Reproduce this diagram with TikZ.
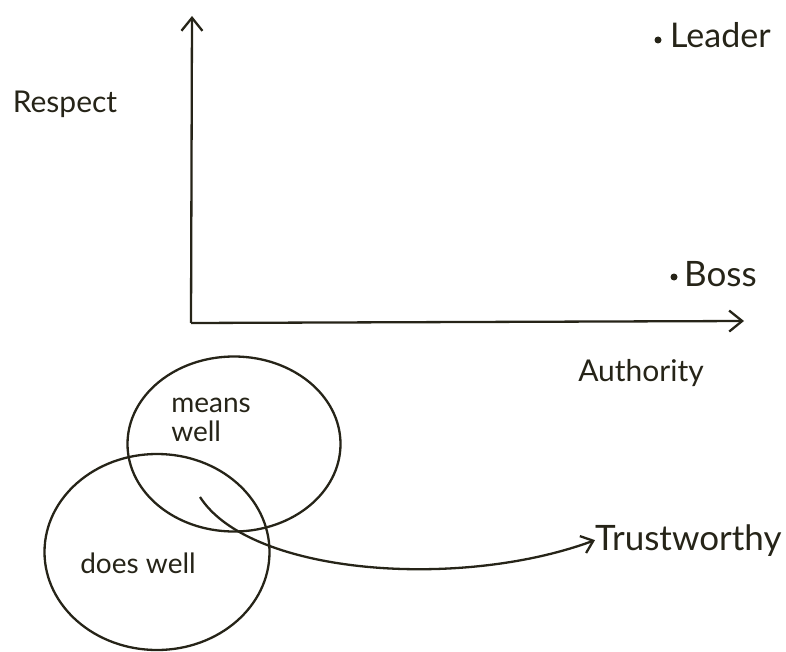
\documentclass[tikz,border=0pt]{standalone}
\usepackage{fontspec}
\setmainfont{Lato}
\usetikzlibrary{arrows.meta,positioning,shapes.geometric}
\definecolor{inkdark}{RGB}{38,36,24}
\tikzset{
    ink/.style={draw=inkdark, line width=2.3pt},
    barb/.style={-{Straight Barb[length=13pt,width=21pt]}},
    hand/.style={text=inkdark, inner sep=0pt, font=\fontsize{30}{32}\selectfont},
    blob/.style={ellipse, draw=inkdark, line width=2.3pt, inner sep=0pt}
}

\begin{document}
\begin{tikzpicture}[x=1pt, y=-1pt]
    \useasboundingbox (0,0) rectangle (786,652);

    % --- Respect / Authority axes ---
    \coordinate (origin) at (191,323);
    \coordinate (ytip) at (192,16);
    \coordinate (xtip) at (744,321);
    \draw[ink, barb] (origin) -- (ytip);
    \draw[ink, barb] (origin) -- (xtip);

    \node[hand] (respect) at (65,104) {Respect};
    \node[hand, anchor=base] (authority) at (641,381) {Authority};

    % Leader and Boss points
    \coordinate (leaderpt) at (658,40);
    \coordinate (bosspt) at (674,277);
    \fill[inkdark] (leaderpt) circle (3.5pt);
    \fill[inkdark] (bosspt) circle (3.5pt);
    \node[hand, anchor=base west, font=\fontsize{34}{36}\selectfont] (leader) at (670,48) {Leader};
    \node[hand, anchor=base west, font=\fontsize{35}{36}\selectfont] (boss) at (684,286) {Boss};

    % --- Venn of the two wells ---
    \node[blob, minimum width=213pt, minimum height=175pt] (meanswell) at (234,444) {};
    \node[blob, minimum width=225pt, minimum height=196pt] (doeswell) at (157,552) {};
    \node[hand, align=left, font=\fontsize{28}{29}\selectfont] (meanstxt) at (211,420) {means\\well};
    \node[hand, font=\fontsize{28}{30}\selectfont] (doestxt) at (138,563) {does well};

    % Overlap to Trustworthy
    \node[hand, anchor=base west, font=\fontsize{35}{37}\selectfont] (trust) at (595,550) {Trustworthy};
    \coordinate (overlap) at (200,497);
    \draw[ink, -{Straight Barb[length=11pt,width=18pt]}] (overlap) .. controls (250,575) and (460,590) .. (trust.west);
\end{tikzpicture}
\end{document}
